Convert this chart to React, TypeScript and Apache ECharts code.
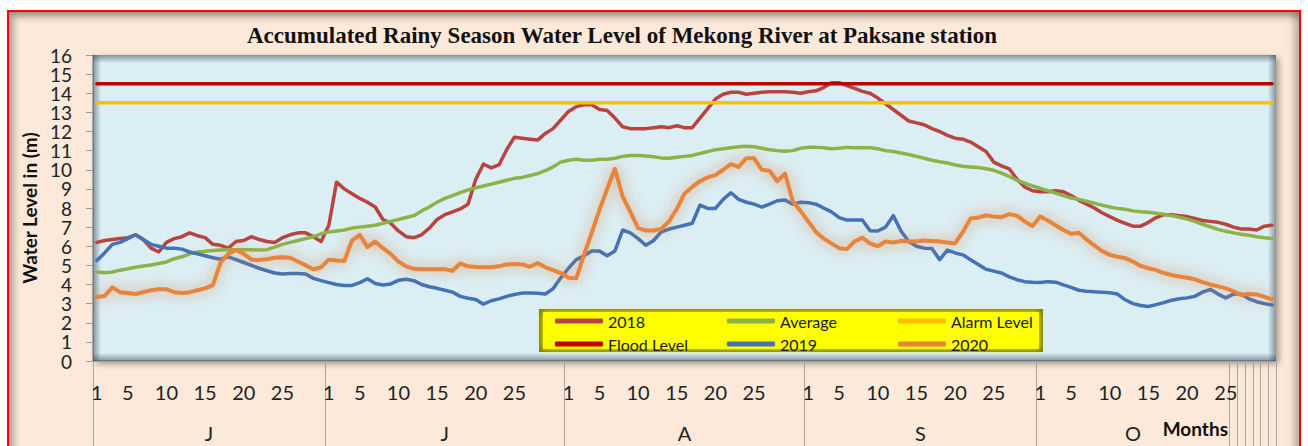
import React, { useEffect, useRef } from 'react';
import * as echarts from 'echarts';

const TITLE = 'Accumulated Rainy Season Water Level of Mekong River at Paksane station';
const MONTHS = ['J', 'J', 'A', 'S', 'O'];
const MONTH_DAYS = [30, 31, 31, 30, 31];
const LABEL_DAYS = ['1', '5', '10', '15', '20', '25'];
// Excel category groups: the months, then single-day groups for Oct 26-31
const GROUP_BOUNDS = [0, 30, 61, 92, 122, 147, 148, 149, 150, 151, 152, 153];

const FLOOD_LEVEL = 14.5;
const ALARM_LEVEL = 13.5;

const y2018 = [
  6.2, 6.3, 6.35, 6.4, 6.45, 6.6, 6.35, 5.9, 5.7, 6.2,
  6.4, 6.5, 6.7, 6.55, 6.45, 6.1, 6.05, 5.9, 6.25, 6.3,
  6.5, 6.35, 6.25, 6.2, 6.45, 6.6, 6.7, 6.7, 6.5, 6.25,
  7.1, 9.35, 9.0, 8.75, 8.5, 8.3, 8.05, 7.4, 7.2, 6.8,
  6.5, 6.45, 6.6, 6.95, 7.4, 7.65, 7.8, 7.95, 8.2, 9.5,
  10.3, 10.1, 10.25, 11.05, 11.7, 11.65, 11.6, 11.55, 11.9, 12.15,
  12.6, 13.05, 13.3, 13.4, 13.4, 13.15, 13.1, 12.7, 12.25, 12.15,
  12.15, 12.15, 12.2, 12.25, 12.2, 12.3, 12.2, 12.2, 12.7, 13.2,
  13.7, 13.95, 14.05, 14.05, 13.95, 14.0, 14.05, 14.08, 14.08, 14.08,
  14.05, 14.0, 14.08, 14.13, 14.3, 14.55, 14.55, 14.4, 14.25, 14.1,
  14.0, 13.75, 13.45, 13.15, 12.85, 12.55, 12.45, 12.35, 12.15, 12.0,
  11.8, 11.65, 11.6, 11.45, 11.2, 10.95, 10.4, 10.2, 10.05, 9.5,
  9.1, 8.9, 8.85, 8.85, 8.9, 8.85, 8.65, 8.4, 8.2, 8.0,
  7.75, 7.55, 7.35, 7.2, 7.05, 7.05, 7.25, 7.5, 7.65, 7.65,
  7.6, 7.55, 7.45, 7.35, 7.3, 7.25, 7.15, 7.0, 6.9, 6.9,
  6.85, 7.05, 7.1,
];

const yAverage = [
  4.65, 4.62, 4.65, 4.75, 4.82, 4.9, 4.97, 5.02, 5.1, 5.18,
  5.35, 5.45, 5.6, 5.7, 5.74, 5.78, 5.8, 5.82, 5.82, 5.82,
  5.82, 5.8, 5.82, 5.95, 6.1, 6.2, 6.3, 6.4, 6.5, 6.65,
  6.75, 6.8, 6.85, 6.95, 7.0, 7.05, 7.1, 7.2, 7.3, 7.4,
  7.5, 7.6, 7.85, 8.05, 8.3, 8.5, 8.65, 8.8, 8.95, 9.05,
  9.15, 9.25, 9.35, 9.45, 9.55, 9.6, 9.7, 9.8, 9.95, 10.15,
  10.4, 10.5, 10.55, 10.5, 10.5, 10.55, 10.55, 10.6, 10.7, 10.75,
  10.75, 10.72, 10.68, 10.62, 10.6, 10.65, 10.7, 10.75, 10.85, 10.95,
  11.05, 11.1, 11.15, 11.2, 11.23, 11.2, 11.12, 11.05, 11.0, 10.97,
  11.0, 11.12, 11.17, 11.17, 11.15, 11.1, 11.12, 11.17, 11.15, 11.15,
  11.15, 11.1, 11.0, 10.95, 10.88, 10.8, 10.7, 10.6, 10.5, 10.42,
  10.35, 10.25, 10.18, 10.15, 10.12, 10.05, 9.97, 9.82, 9.65, 9.45,
  9.3, 9.15, 9.03, 8.9, 8.78, 8.65, 8.52, 8.45, 8.35, 8.25,
  8.15, 8.05, 7.98, 7.93, 7.85, 7.8, 7.78, 7.73, 7.68, 7.6,
  7.52, 7.42, 7.3, 7.15, 7.02, 6.88, 6.78, 6.7, 6.63, 6.57,
  6.5, 6.45, 6.41,
];

const y2019 = [
  5.25, 5.65, 6.1, 6.2, 6.4, 6.6, 6.35, 6.1, 6.0, 5.9,
  5.9, 5.85, 5.7, 5.6, 5.5, 5.4, 5.32, 5.45, 5.3, 5.15,
  5.0, 4.85, 4.72, 4.6, 4.55, 4.58, 4.58, 4.55, 4.32, 4.2,
  4.1, 4.0, 3.95, 3.95, 4.1, 4.3, 4.05, 3.97, 4.03, 4.22,
  4.27, 4.2, 4.0, 3.88, 3.8, 3.7, 3.6, 3.38, 3.28, 3.22,
  2.97, 3.15, 3.25, 3.38, 3.48, 3.55, 3.55, 3.54, 3.5, 3.78,
  4.35, 4.85, 5.3, 5.5, 5.75, 5.75, 5.5, 5.75, 6.85, 6.7,
  6.4, 6.05, 6.3, 6.75, 6.9, 7.0, 7.1, 7.2, 8.15, 7.98,
  7.98, 8.45, 8.8, 8.45, 8.3, 8.2, 8.05, 8.2, 8.38, 8.42,
  8.2, 8.3, 8.28, 8.2, 8.0, 7.8, 7.5, 7.37, 7.37, 7.37,
  6.81, 6.8, 7.0, 7.6, 6.8, 6.25, 6.0, 5.9, 5.88, 5.3,
  5.8, 5.65, 5.55, 5.3, 5.05, 4.8, 4.7, 4.6, 4.4, 4.25,
  4.15, 4.12, 4.1, 4.15, 4.12, 3.98, 3.85, 3.7, 3.65, 3.62,
  3.6, 3.57, 3.5, 3.2, 3.0, 2.9, 2.85, 2.95, 3.05, 3.18,
  3.25, 3.3, 3.38, 3.6, 3.75, 3.5, 3.3, 3.5, 3.5, 3.25,
  3.1, 3.0, 2.93,
];

const y2020 = [
  3.35, 3.4, 3.85, 3.6, 3.55, 3.5, 3.6, 3.7, 3.75, 3.75,
  3.6, 3.55, 3.6, 3.7, 3.8, 3.97, 5.15, 5.6, 5.8, 5.6,
  5.3, 5.28, 5.32, 5.4, 5.42, 5.4, 5.2, 5.0, 4.8, 4.9,
  5.3, 5.25, 5.23, 6.3, 6.6, 5.95, 6.25, 5.9, 5.6, 5.2,
  4.95, 4.82, 4.8, 4.8, 4.8, 4.8, 4.72, 5.1, 4.95, 4.92,
  4.9, 4.9, 4.95, 5.05, 5.07, 5.05, 4.93, 5.12, 4.9, 4.75,
  4.6, 4.35, 4.32, 5.55, 6.7, 7.9, 9.0, 10.05, 8.6, 7.8,
  6.95, 6.82, 6.82, 6.9, 7.3, 7.95, 8.75, 9.1, 9.4, 9.6,
  9.72, 10.0, 10.3, 10.15, 10.6, 10.6, 10.0, 9.95, 9.4, 9.8,
  8.35, 7.85, 7.3, 6.75, 6.4, 6.15, 5.9, 5.85, 6.25, 6.45,
  6.15, 6.0, 6.25, 6.2, 6.27, 6.25, 6.25, 6.3, 6.28, 6.25,
  6.2, 6.15, 6.75, 7.45, 7.5, 7.62, 7.55, 7.52, 7.68, 7.6,
  7.3, 7.05, 7.55, 7.35, 7.1, 6.85, 6.65, 6.7, 6.35, 6.05,
  5.75, 5.55, 5.45, 5.38, 5.2, 4.97, 4.85, 4.75, 4.6, 4.5,
  4.42, 4.35, 4.27, 4.12, 4.0, 3.9, 3.8, 3.65, 3.45, 3.5,
  3.48, 3.35, 3.22,
];

const C2018 = '#b9443f';
const CFLOOD = '#c00000';
const CAVG = '#8db348';
const C2019 = '#4472b6';
const CALARM = '#ffc000';
const C2020 = '#e8843a';

const categories: string[] = MONTHS.flatMap((_, mi) =>
  Array.from({ length: MONTH_DAYS[mi] }, (_x, d) => `${mi}-${d + 1}`)
);
const N = categories.length;
const floodData = new Array(N).fill(FLOOD_LEVEL);
const alarmData = new Array(N).fill(ALARM_LEVEL);
const monthCenters = MONTHS.map((_, i) => (GROUP_BOUNDS[i] + GROUP_BOUNDS[i + 1]) / 2);

const GRID = { left: 93, top: 55, width: 1183, height: 306 };
const LABEL_FONT = 'Lato';

const shade = 'rgba(60,72,84,0.55)';
const clear = 'rgba(60,72,84,0)';
const grad = (x: number, y: number, x2: number, y2: number) =>
  new echarts.graphic.LinearGradient(x, y, x2, y2, [
    { offset: 0, color: shade },
    { offset: 1, color: clear },
  ]);

const legendBase = {
  orient: 'vertical',
  top: 313,
  padding: 0,
  itemWidth: 48,
  itemHeight: 5,
  itemGap: 7,
  icon: 'roundRect',
  selectedMode: false,
  z: 6,
  textStyle: { fontFamily: LABEL_FONT, fontSize: 16, color: '#1a1a1a', lineHeight: 14 },
};

const line = (name: string, data: number[], color: string, width: number, extra: any = {}) => ({
  name,
  type: 'line',
  data,
  symbol: 'none',
  itemStyle: { color },
  lineStyle: { color, width, cap: 'round', join: 'round', ...extra },
  z: 3,
});

const option: any = {
  animation: false,
  title: {
    text: TITLE,
    left: 247,
    top: 24,
    padding: 0,
    textStyle: { fontFamily: 'Liberation Serif', fontWeight: 'bold', fontSize: 23, color: '#111' },
  },
  grid: {
    ...GRID,
    show: true,
    backgroundColor: '#dbeef4',
    borderWidth: 0,
    shadowColor: 'rgba(0,0,0,0.35)',
    shadowBlur: 6,
    shadowOffsetX: 3,
    shadowOffsetY: 3,
  },
  legend: [
    { ...legendBase, left: 555, data: ['2018', 'Flood Level'] },
    { ...legendBase, left: 727, data: ['Average', '2019'] },
    { ...legendBase, left: 898, data: ['Alarm Level', '2020'] },
  ],
  xAxis: [
    {
      type: 'category',
      data: categories,
      boundaryGap: true,
      axisLine: { show: true, lineStyle: { color: '#9a9a9a', width: 1.5 } },
      axisTick: { show: false },
      splitLine: { show: false },
      axisLabel: {
        interval: (_i: number, v: string) => LABEL_DAYS.includes(v.split('-')[1]),
        formatter: (v: string) => v.split('-')[1],
        margin: 21,
        fontFamily: LABEL_FONT,
        fontSize: 20,
        color: '#222',
      },
    },
    {
      type: 'value',
      min: 0,
      max: N,
      position: 'bottom',
      axisLine: { show: false },
      splitLine: { show: false },
      axisTick: {
        show: true,
        customValues: GROUP_BOUNDS,
        length: 90,
        lineStyle: { color: '#a6a6a6', width: 1 },
      },
      axisLabel: {
        customValues: monthCenters.slice(0, 5),
        formatter: (v: number) => {
          const k = monthCenters.findIndex((c) => Math.abs(c - v) < 0.01);
          return k >= 0 ? MONTHS[k] : '';
        },
        margin: 62,
        fontFamily: LABEL_FONT,
        fontSize: 20,
        color: '#222',
      },
    },
  ],
  yAxis: {
    type: 'value',
    min: 0,
    max: 16,
    interval: 1,
    name: 'Water Level in (m)',
    nameLocation: 'middle',
    nameRotate: 90,
    nameGap: 54,
    nameTextStyle: { fontFamily: LABEL_FONT, fontWeight: 'bold', fontSize: 19, color: '#111' },
    axisLine: { show: true, lineStyle: { color: '#9a9a9a', width: 1.5 } },
    axisTick: { show: true, length: 7, lineStyle: { color: '#9a9a9a' } },
    splitLine: { show: false },
    axisLabel: {
      margin: 21,
      fontFamily: LABEL_FONT,
      fontSize: 19,
      lineHeight: 16,
      color: '#222',
      showMinLabel: true,
      showMaxLabel: true,
      hideOverlap: false,
    },
  },
  graphic: [
    { type: 'rect', z: 1, silent: true, shape: { x: GRID.left, y: GRID.top, width: GRID.width, height: 8 }, style: { fill: grad(0, 0, 0, 1) } },
    { type: 'rect', z: 1, silent: true, shape: { x: GRID.left, y: GRID.top, width: 8, height: GRID.height }, style: { fill: grad(0, 0, 1, 0) } },
    { type: 'rect', z: 1, silent: true, shape: { x: GRID.left + GRID.width - 8, y: GRID.top, width: 8, height: GRID.height }, style: { fill: grad(1, 0, 0, 0) } },
    { type: 'rect', z: 1, silent: true, shape: { x: GRID.left, y: GRID.top + GRID.height - 8, width: GRID.width, height: 8 }, style: { fill: grad(0, 1, 0, 0) } },
    { type: 'rect', z: 5, silent: true, shape: { x: 539, y: 309, width: 504, height: 43 }, style: { fill: '#7d7d00' } },
    { type: 'rect', z: 5, silent: true, shape: { x: 543, y: 312, width: 496, height: 37 }, style: { fill: '#ffff00', shadowBlur: 6, shadowColor: '#ffff00' } },
    {
      type: 'text',
      z: 6,
      x: 1228,
      y: 428,
      style: { text: 'Months', align: 'right', verticalAlign: 'middle', fontFamily: LABEL_FONT, fontWeight: 'bold', fontSize: 19, fill: '#111' },
    },
  ],
  series: [
    line('2018', y2018, C2018, 3.5),
    line('Flood Level', floodData, CFLOOD, 3.5),
    line('Average', yAverage, CAVG, 3.5),
    line('Alarm Level', alarmData, CALARM, 3.5),
    line('2019', y2019, C2019, 3.5),
    line('2020', y2020, C2020, 4, { shadowColor: 'rgba(214,128,60,0.8)', shadowBlur: 14 }),
  ],
};

export default function App() {
  const ref = useRef<HTMLDivElement>(null);
  useEffect(() => {
    const chart = echarts.init(ref.current as HTMLDivElement, null, { renderer: 'svg' });
    chart.setOption(option);
    return () => chart.dispose();
  }, []);
  return (
    <div style={{ position: 'absolute', left: 0, top: 0, width: 1308, height: 446, background: '#ffffff', overflow: 'hidden' }}>
      <div
        style={{
          position: 'absolute',
          left: 7,
          top: 10,
          width: 1290,
          height: 460,
          border: '2px solid #ff0000',
          background: '#fde9d9',
          boxShadow: 'inset 5px 5px 7px rgba(0,0,0,0.3), inset -5px 0 7px rgba(0,0,0,0.25)',
        }}
      />
      <div ref={ref} style={{ position: 'absolute', left: 0, top: 0, width: 1308, height: 446 }} />
    </div>
  );
}
